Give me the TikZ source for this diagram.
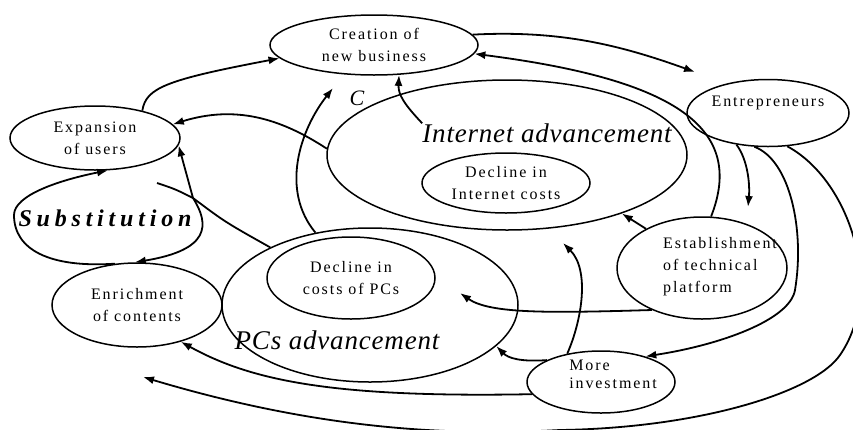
\documentclass[tikz,border=0pt]{standalone}
\usepackage{fontspec}
\setmainfont{Liberation Serif}
\usetikzlibrary{shapes.geometric,arrows.meta}

\begin{document}
\begin{tikzpicture}[x=1pt,y=-1pt,
  bub/.style={draw, ellipse, line width=1.5pt, inner sep=0pt, align=center,
    font=\fontsize{16}{22}\selectfont\addfontfeatures{LetterSpace=12}},
  txt/.style={align=left, inner sep=0pt,
    font=\fontsize{16}{22}\selectfont\addfontfeatures{LetterSpace=12}},
  big/.style={inner sep=0pt, font=\fontsize{27}{30}\selectfont\itshape\addfontfeatures{LetterSpace=3}},
  arr/.style={line width=1.8pt, -{Latex[length=11pt,width=8pt]}},
  ln/.style={line width=1.8pt}]
\useasboundingbox (0,0) rectangle (853,429);

\node[bub, minimum width=208pt, minimum height=60pt] (cr) at (374,45) {Creation of\\new business};
\node[bub, minimum width=170pt, minimum height=64pt] (ex) at (95,138) {Expansion\\of users};
\node[bub, minimum width=170pt, minimum height=84pt] (en) at (137,305) {Enrichment\\of contents};
\node[bub, minimum width=162pt, minimum height=67pt] (et) at (768,113) {};
\node[txt] (etl) at (768,103) {Entrepreneurs};
\node[bub, minimum width=170pt, minimum height=102pt] (tp) at (702,268) {};
\node[txt] (tpl) at (720,267) {Establishment\\of technical\\platform};
\node[bub, minimum width=148pt, minimum height=62pt] (mi) at (601,382) {};
\node[txt, font=\fontsize{16}{18}\selectfont\addfontfeatures{LetterSpace=12}] (mil) at (613,374) {More\\investment};

\node[bub, minimum width=360pt, minimum height=150pt] (ia) at (507,155) {};
\node[bub, minimum width=168pt, minimum height=60pt] (ic) at (506,183) {Decline in\\Internet costs};
\node[big] (ial) at (547,133) {Internet advancement};
\node[bub, minimum width=296pt, minimum height=154pt] (pa) at (370,305) {};
\node[bub, minimum width=168pt, minimum height=82pt] (pc) at (351,278) {Decline in\\costs of PCs};
\node[big] (pal) at (337,340) {PCs advancement};

\node[inner sep=0pt, font=\fontsize{24}{26}\selectfont\bfseries\itshape\addfontfeatures{LetterSpace=20}] (sub) at (105,218) {Substitution};
\node[inner sep=0pt, font=\fontsize{22}{24}\selectfont\itshape] (cc) at (357,98) {C};

\coordinate (etip) at (695,72);
\coordinate (tptip) at (748,207);
\coordinate (ptip) at (460,293);
\coordinate (itip) at (563,243);
\coordinate (ctip) at (333,88);
\coordinate (lowtip) at (143,377);
\coordinate (j) at (193,198);
\coordinate (s0) at (157,183);

\draw[arr] (ex.30) .. controls (146,88) and (165,80) .. (cr.188);
\draw[arr] (cr.6) .. controls (560,30) and (620,45) .. (etip);
\draw[arr] (tp.80) .. controls (745,130) and (680,80) .. (cr.-5);
\draw[arr] (et.225) .. controls (748,160) and (750,185) .. (tptip);
\draw[arr] (et.248) .. controls (790,160) and (805,230) .. (795,290)
  .. controls (790,320) and (720,345) .. (mi.30);
\draw[arr] (et.300) .. controls (850,180) and (885,290) .. (840,355)
  .. controls (815,392) and (700,428) .. (560,430)
  .. controls (450,436) and (320,430) .. (lowtip);
\draw[arr] (tp.145) -- (ia.-27);
\draw[arr] (tp.220) .. controls (550,313) and (490,314) .. (ptip);
\draw[arr] (mi.140) .. controls (582,320) and (590,270) .. (itip);
\draw[arr] (mi.158) .. controls (520,362) and (508,358) .. (pa.-18);
\draw[arr] (mi.190) .. controls (330,398) and (250,380) .. (en.-40);
\draw[arr] (ia.178) .. controls (280,118) and (235,105) .. (ex.10);
\draw[arr] (ial.north west) .. controls (405,105) and (398,95) .. (cr.-50);
\draw[arr] (pa.127) .. controls (280,190) and (300,130) .. (ctip);

\draw[ln] (s0) .. controls (175,189) .. (j) .. controls (225,222) .. (pa.150);
\draw[arr] (j) -- (ex.-5);
\draw[arr] (j) .. controls (210,225) and (210,250) .. (en.93);
\draw[arr] (en.118) .. controls (50,268) and (14,250) .. (14,215)
  .. controls (14,195) and (60,180) .. (ex.-68);
\end{tikzpicture}
\end{document}
